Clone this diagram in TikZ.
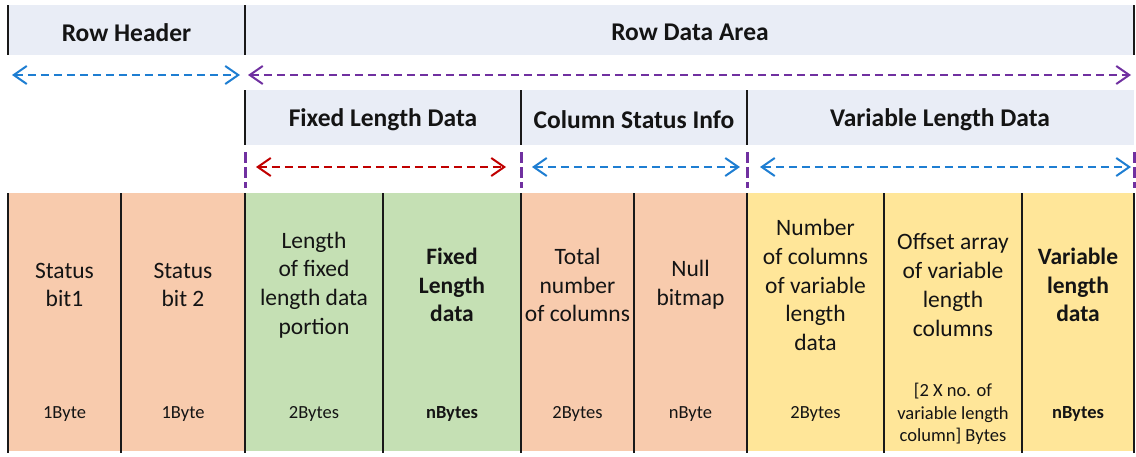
\documentclass[tikz,border=0pt]{standalone}
\usepackage{fontspec}
\setmainfont{Carlito}
\usetikzlibrary{arrows.meta}
\definecolor{hdr}{RGB}{233,237,246}
\definecolor{orng}{RGB}{248,203,173}
\definecolor{grn}{RGB}{197,224,180}
\definecolor{yel}{RGB}{255,230,153}
\definecolor{blu}{RGB}{30,126,210}
\definecolor{prp}{RGB}{112,48,160}
\definecolor{rd}{RGB}{192,0,0}
\definecolor{txt}{RGB}{20,20,20}
\tikzset{
  band/.style={fill=hdr, draw=none},
  divider/.style={line width=2pt, draw=black!90},
  htext/.style={font=\fontsize{25.5}{30}\selectfont\bfseries, text=txt},
  btext/.style={font=\fontsize{23.5}{28.7}\selectfont, text=txt, align=center, inner sep=0pt},
  bbold/.style={btext, font=\fontsize{23.5}{28.7}\selectfont\bfseries},
  stext/.style={font=\fontsize{18.5}{22.6}\selectfont, text=txt, align=center, inner sep=0pt},
  sbold/.style={stext, font=\fontsize{18.5}{22.6}\selectfont\bfseries},
  span/.style={line width=2pt, dash pattern=on 8pt off 5pt, {Straight Barb[length=13pt,width=18pt,line width=2pt]}-{Straight Barb[length=13pt,width=18pt,line width=2pt]}},
  sep/.style={draw=prp, line width=3pt, dash pattern=on 11pt off 4pt},
}
\begin{document}
\begin{tikzpicture}[x=1pt,y=-1pt]
\useasboundingbox (0,0) rectangle (1136,456);
% top band
\fill[band] (8,5) rectangle (1134,55);
\node[htext] (rh) at (126.5,32.5) {Row Header};
\node[htext] (rda) at (690,32.5) {Row Data Area};
\foreach \x in {8,245,1134} \draw[divider] (\x,5) -- (\x,55);
% first arrows
\coordinate (a1l) at (12,75); \coordinate (a1r) at (240,75);
\coordinate (a2l) at (248,75); \coordinate (a2r) at (1131,75);
\draw[span, blu] (a1l) -- (a1r);
\draw[span, prp] (a2l) -- (a2r);
% second band
\fill[band] (245,90) rectangle (1134,145);
\node[htext] (fld) at (383,119.5) {Fixed Length Data};
\node[htext] (csi) at (634,119.5) {Column Status Info};
\node[htext] (vld) at (940,119.5) {Variable Length Data};
\foreach \x in {245,521,747} \draw[divider] (\x,90) -- (\x,145);
% separators
\foreach \x in {245,521,747,1134} \draw[sep] (\x,152) -- (\x,188);
% second arrows
\coordinate (b1l) at (256,167); \coordinate (b1r) at (506,167);
\coordinate (b2l) at (532,167); \coordinate (b2r) at (740,167);
\coordinate (b3l) at (760,167); \coordinate (b3r) at (1131,167);
\draw[span, rd] (b1l) -- (b1r);
\draw[span, blu] (b2l) -- (b2r);
\draw[span, blu] (b3l) -- (b3r);
% cells
\fill[orng] (8,193) rectangle (245,451);
\fill[grn] (245,193) rectangle (521,451);
\fill[orng] (521,193) rectangle (747,451);
\fill[yel] (747,193) rectangle (1134,451);
\foreach \x in {8,121,245,383,521,634,747,884,1022,1134} \draw[divider] (\x,193) -- (\x,453);
% cell texts
\node[btext] (c1) at (64.5,285) {Status\\bit1};
\node[btext] (c2) at (183,285) {Status\\bit 2};
\node[btext] (c3) at (314,285) {Length\\of fixed\\length data\\portion};
\node[bbold] (c4) at (452,285) {Fixed\\Length\\data};
\node[btext] (c5) at (577.5,285) {Total\\number\\of columns};
\node[btext] (c6) at (690.5,285) {Null\\bitmap};
\node[btext] (c7) at (815.5,285) {Number\\of columns\\of variable\\length\\data};
\node[btext] (c8) at (953,285) {Offset array\\of variable\\length\\columns};
\node[bbold] (c9) at (1078,285) {Variable\\length\\data};
% sizes
\node[stext] (s1) at (64.5,414) {1Byte};
\node[stext] (s2) at (183,414) {1Byte};
\node[stext] (s3) at (314,414) {2Bytes};
\node[sbold] (s4) at (452,414) {nBytes};
\node[stext] (s5) at (577.5,414) {2Bytes};
\node[stext] (s6) at (690.5,414) {nByte};
\node[stext] (s7) at (815.5,414) {2Bytes};
\node[stext] (s8) at (953,414) {[2 X no. of\\variable length\\column] Bytes};
\node[sbold] (s9) at (1078,414) {nBytes};
\end{tikzpicture}
\end{document}
